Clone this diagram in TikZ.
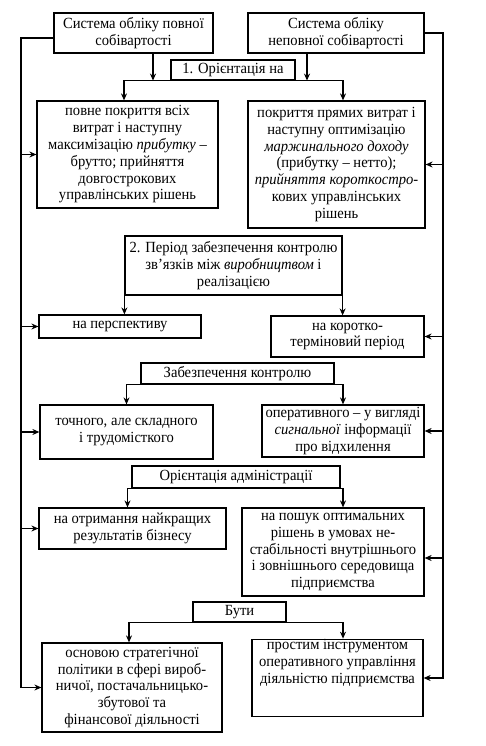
\documentclass[tikz,border=0pt]{standalone}
\usepackage{fontspec}
\setmainfont[FakeStretch=0.94]{Liberation Serif}
\usetikzlibrary{arrows.meta}
\begin{document}
\begin{tikzpicture}[x=1pt,y=-1pt,
  bx/.style={draw,line width=1.2pt,align=center,inner sep=0pt,font=\fontsize{15.5}{16.8}\selectfont},
  arr/.style={line width=1.2pt,-{Stealth[length=7pt,width=6pt]}}]
\fill[white] (0,0) rectangle (486,746);
\useasboundingbox (0,0) rectangle (486,746);
\node[bx,minimum width=159pt,minimum height=40pt] (A) at (133.5,33) {Система обліку повної\\собівартості};
\node[bx,minimum width=176pt,minimum height=40pt] (B) at (336,33) {Система обліку\\неповної собівартості};
\node[bx,minimum width=124pt,minimum height=20pt] (C) at (233,70) {1. Орієнтація на};
\node[bx,minimum width=181pt,minimum height=107pt] (D) at (127.5,154.5) {повне покриття всіх\\витрат і наступну\\максимізацію \textit{прибутку} –\\брутто; прийняття\\довгострокових\\управлінських рішень};
\node[bx,minimum width=177pt,minimum height=127pt] (E) at (336.5,164.5) {покриття прямих витрат і\\наступну оптимізацію\\\textit{маржинального доходу}\\(прибутку – нетто);\\\textit{прийняття короткостро-}\\кових управлінських\\рішень};
\node[bx,minimum width=217pt,minimum height=59pt] (F) at (233.5,265.5) {2. Період забезпечення контролю\\зв’язків між \textit{виробництвом} і\\реалізацією};
\node[bx,minimum width=162pt,minimum height=23pt] (G) at (120,326.5) {на перспективу};
\node[bx,minimum width=153pt,minimum height=41pt] (H) at (347.5,336.5) {на коротко-\\терміновий період};
\node[bx,minimum width=193pt,minimum height=21pt] (I) at (237.5,373.5) {Забезпечення контролю};
\node[bx,minimum width=173pt,minimum height=54pt] (J) at (126.5,432) {точного, але складного\\і трудомісткого};
\node[bx,minimum width=162pt,minimum height=52pt] (K) at (343,431) {оперативного – у вигляді\\\textit{сигнальної} інформації\\про відхилення};
\node[bx,minimum width=208pt,minimum height=22pt] (L) at (236,477) {Орієнтація адміністрації};
\node[bx,minimum width=187pt,minimum height=41pt] (M) at (132.5,528.5) {на отримання найкращих\\результатів бізнесу};
\node[bx,minimum width=182pt,minimum height=88pt] (N) at (333,552) {на пошук оптимальних\\рішень в умовах не-\\стабільності внутрішнього\\і зовнішнього середовища\\підприємства};
\node[bx,minimum width=93pt,minimum height=20pt] (O) at (239.5,612) {Бути};
\node[bx,minimum width=180pt,minimum height=89pt] (P) at (132,687.5) {основою стратегічної\\політики в сфері вироб-\\ничої, постачальницько-\\збутової та\\фінансової діяльності};
\node[bx,minimum width=171pt,minimum height=70pt] (Q) at (337.5,678) {простим інструментом\\оперативного управління\\діяльністю підприємства\\[16.8pt]};
\coordinate (lx) at (21,0);
\coordinate (rx) at (443,0);
\coordinate (Ne) at ([yshift=-6pt]N.east);
% top arrows
\draw[arr] ([xshift=19.5pt]A.south) -- ([xshift=19.5pt]A.south |- C.south);
\draw[arr] ([xshift=-29pt]B.south) -- ([xshift=-29pt]B.south |- C.south);
% branches
\draw[arr] (C.south) -| ([xshift=-3.5pt]D.north);
\draw[arr] (C.south) -| ([xshift=6.5pt]E.north);
\draw[arr] (F.south west) -- (F.south west |- G.north);
\draw[arr] (F.south east) -- (F.south east |- H.north);
\draw[arr] (I.south) -| (J.north);
\draw[arr] (I.south) -| (K.north);
\draw[arr] (L.south) -| ([xshift=-5pt]M.north);
\draw[arr] (L.south) -| ([xshift=10pt]N.north);
\draw[arr] (O.south) -| ([xshift=-3pt]P.north);
\draw[arr] (O.south) -| ([xshift=5.5pt]Q.north);
% side lines
\draw[arr] ([yshift=-5pt]A.west) -| (lx |- P.west) -- (P.west);
\foreach \n in {D,G,J,M} \draw[arr] (lx |- \n.west) -- (\n.west);
\draw[arr] (B.east) -| (rx |- Q.east) -- (Q.east);
\foreach \n in {E,H,K} \draw[arr] (rx |- \n.east) -- (\n.east);
\draw[arr] (rx |- Ne) -- (Ne);
\end{tikzpicture}
\end{document}
